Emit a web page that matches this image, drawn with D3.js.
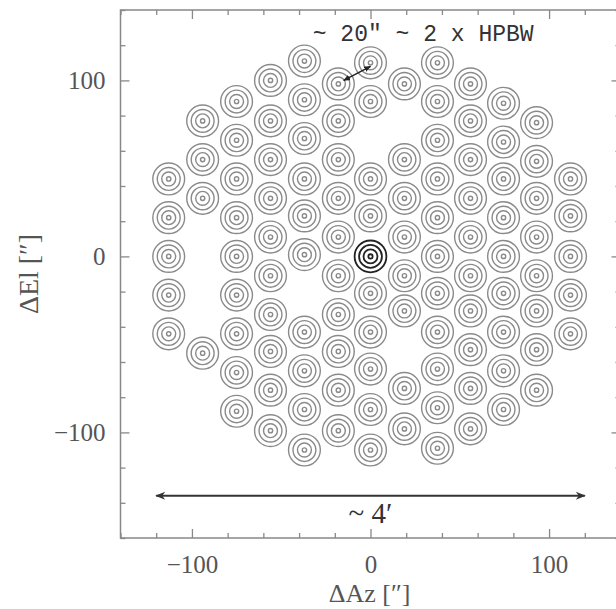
<!doctype html>
<html>
<head>
  <meta charset="utf-8">
  <style>
    body { margin: 0; background: #fff; }
    text { font-family: "Liberation Serif", "DejaVu Serif", serif; }
  </style>
  <script src="https://cdn.jsdelivr.net/npm/d3@7"></script>
</head>
<body>
<script>
// beam centres in arcsec, one list of elevations per azimuth column
var colX = [-113, -94, -75, -56, -37, -18, 0, 19, 37.5, 56, 74.5, 93, 112];
var colY = [
  [44, 22, 0, -22, -44],
  [77, 55, 33, -55],
  [88, 66, 44, 22, 0, -22, -44, -66, -88],
  [100, 77, 55, 33, 11, -11, -33, -54, -76, -99],
  [111, 89, 67, 44, 23, 1, -43, -65, -87, -110],
  [98, 77, 55, 33, 11, -11, -33, -54, -76, -99],
  [110, 88, 44, 23, 0, -21, -43, -64, -87, -110],
  [98, 55, 33, 11, -11, -31, -75, -98],
  [110, 88, 66, 44, 22, 0, -21, -43, -64, -86, -109],
  [98, 77, 55, 33, 11, -11, -31, -53, -75, -98],
  [87, 65, 44, 22, 0, -21, -43, -65, -87],
  [76, 54, 33, 11, -11, -31, -53, -76],
  [44, 23, 0, -22, -44]
];
var refBeam = [0, 0];
var contourR = [8.9, 6.4, 3.9, 1.2];   // contour radii, arcsec
var sepArrow = [[-15, 100], [0, 108]];
var spanArrow = [[-120, -136], [120, -136]];

var majorTicks = [-100, 0, 100];
var minorX = [-140, -120, -80, -60, -40, -20, 20, 40, 60, 80, 120, 140];
var minorY = [-160, -140, -120, -80, -60, -40, -20, 20, 40, 60, 80, 120, 140];

var W = 616, H = 609;
var svg = d3.select("body").append("svg")
  .attr("width", W).attr("height", H);

var x = d3.scaleLinear().domain([-140, 140]).range([120.5, 620.5]);
var y = d3.scaleLinear().domain([-160, 140]).range([538, 10]);

var defs = svg.append("defs");
defs.append("filter").attr("id", "soft")
  .append("feGaussianBlur").attr("stdDeviation", 0.5);
defs.append("marker")
  .attr("id", "head")
  .attr("viewBox", "0 0 10 10")
  .attr("refX", 9).attr("refY", 5)
  .attr("markerWidth", 7).attr("markerHeight", 7)
  .attr("markerUnits", "userSpaceOnUse")
  .attr("orient", "auto-start-reverse")
  .append("path").attr("d", "M0,1L10,5L0,9z").attr("fill", "#222");
defs.append("marker")
  .attr("id", "bighead")
  .attr("viewBox", "0 0 10 10")
  .attr("refX", 9).attr("refY", 5)
  .attr("markerWidth", 12).attr("markerHeight", 10)
  .attr("markerUnits", "userSpaceOnUse")
  .attr("orient", "auto-start-reverse")
  .append("path").attr("d", "M0,1L10,5L0,9L3,5z").attr("fill", "#333");

// frame
svg.append("rect")
  .attr("x", x(-140)).attr("y", y(140))
  .attr("width", x(140) - x(-140)).attr("height", y(-160) - y(140))
  .attr("fill", "none").attr("stroke", "#888").attr("stroke-width", 1.5);

function styleAxis(g) {
  g.select(".domain").remove();
  g.selectAll("line").attr("stroke", "#888").attr("stroke-width", 1.3);
  g.selectAll("text").attr("fill", "#555")
    .style("font-size", "25px")
    .style("font-family", "'Liberation Serif', serif");
}

svg.append("g").attr("transform", "translate(0," + y(-160) + ")")
  .call(d3.axisBottom(x).tickValues(majorTicks).tickSize(-9).tickPadding(17))
  .call(styleAxis);
svg.append("g").attr("transform", "translate(0," + y(-160) + ")")
  .call(d3.axisBottom(x).tickValues(minorX).tickSize(-5).tickFormat(""))
  .call(styleAxis);
svg.append("g").attr("transform", "translate(0," + y(140) + ")")
  .call(d3.axisTop(x).tickValues(majorTicks).tickSize(-9).tickFormat(""))
  .call(styleAxis);
svg.append("g").attr("transform", "translate(0," + y(140) + ")")
  .call(d3.axisTop(x).tickValues(minorX).tickSize(-5).tickFormat(""))
  .call(styleAxis);

svg.append("g").attr("transform", "translate(" + x(-140) + ",0)")
  .call(d3.axisLeft(y).tickValues(majorTicks).tickSize(-9).tickPadding(15))
  .call(styleAxis);
svg.append("g").attr("transform", "translate(" + x(-140) + ",0)")
  .call(d3.axisLeft(y).tickValues(minorY).tickSize(-5).tickFormat(""))
  .call(styleAxis);
svg.append("g").attr("transform", "translate(" + x(140) + ",0)")
  .call(d3.axisRight(y).tickValues(majorTicks).tickSize(-9).tickFormat(""))
  .call(styleAxis);
svg.append("g").attr("transform", "translate(" + x(140) + ",0)")
  .call(d3.axisRight(y).tickValues(minorY).tickSize(-5).tickFormat(""))
  .call(styleAxis);

// axis titles
svg.append("text")
  .attr("x", x(-0.5)).attr("y", 602)
  .attr("text-anchor", "middle").attr("fill", "#555")
  .style("font-size", "26px")
  .text("\u0394Az [\u2033]");
svg.append("text")
  .attr("transform", "translate(38," + y(-10) + ") rotate(-90)")
  .attr("text-anchor", "middle").attr("fill", "#555")
  .style("font-size", "28px")
  .text("\u0394El [\u2033]");

// beams
var beams = [];
colX.forEach(function(cx, i) {
  colY[i].forEach(function(cy) { beams.push({x: cx, y: cy}); });
});
var rpx = function(r) { return x(r) - x(0); };

var beamG = svg.append("g").attr("filter", "url(#soft)");
beams.forEach(function(b) {
  var isRef = b.x === refBeam[0] && b.y === refBeam[1];
  beamG.selectAll(null)
    .data(contourR)
    .enter().append("circle")
      .attr("cx", x(b.x)).attr("cy", y(b.y))
      .attr("r", function(r) { return rpx(r); })
      .attr("fill", "none")
      .attr("stroke", isRef ? "#222" : "#8a8a8a")
      .attr("stroke-width", isRef ? 1.8 : 1.4);
});

// separation arrow
svg.append("line")
  .attr("x1", x(sepArrow[0][0])).attr("y1", y(sepArrow[0][1]))
  .attr("x2", x(sepArrow[1][0])).attr("y2", y(sepArrow[1][1]))
  .attr("stroke", "#222").attr("stroke-width", 1.5)
  .attr("marker-start", "url(#head)").attr("marker-end", "url(#head)");

svg.append("text")
  .attr("x", x(29.5)).attr("y", 41)
  .attr("text-anchor", "middle").attr("fill", "#333")
  .style("font-family", "'Liberation Mono', monospace")
  .style("font-size", "23px")
  .text("~ 20\" ~ 2 x HPBW");

// map size arrow
svg.append("line")
  .attr("x1", x(spanArrow[0][0])).attr("y1", y(spanArrow[0][1]))
  .attr("x2", x(spanArrow[1][0])).attr("y2", y(spanArrow[1][1]))
  .attr("stroke", "#333").attr("stroke-width", 2)
  .attr("marker-start", "url(#bighead)").attr("marker-end", "url(#bighead)");

svg.append("text")
  .attr("x", x(0)).attr("y", 523)
  .attr("text-anchor", "middle").attr("fill", "#333")
  .style("font-size", "29px")
  .text("~ 4\u2032");
</script>
</body>
</html>
